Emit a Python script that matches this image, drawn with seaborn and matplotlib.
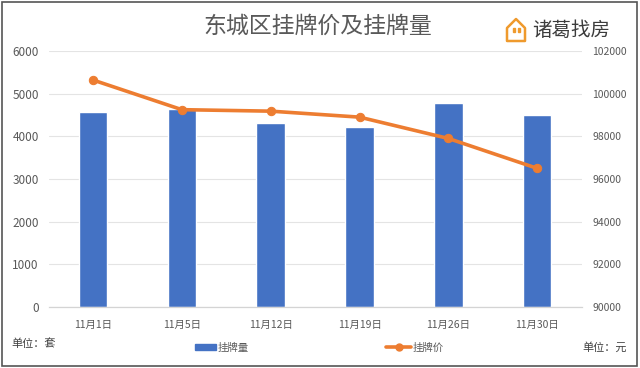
import numpy as np
import pandas as pd
import matplotlib
matplotlib.use("Agg")
import matplotlib.pyplot as plt
from matplotlib.lines import Line2D
from matplotlib.patches import Patch, Rectangle, Polygon
import seaborn as sns

dates = ['11月1日', '11月5日', '11月12日', '11月19日', '11月26日', '11月30日']
volume = [4560, 4650, 4320, 4230, 4780, 4500]
price = [100640, 99250, 99180, 98900, 97900, 96500]
left_ticks = [0, 1000, 2000, 3000, 4000, 5000, 6000]
right_ticks = [90000, 92000, 94000, 96000, 98000, 100000, 102000]

sns.set_theme(style="white")
plt.rcParams['font.family'] = ['Noto Sans CJK SC', 'DejaVu Sans']

blue = '#4472c4'
orange = '#ed7d31'
grey = '#595959'

fig = plt.figure(figsize=(6.4, 3.68), dpi=100)
ax = fig.add_axes([48.6 / 640, 1 - 307 / 368, 533 / 640, 256 / 368])

df = pd.DataFrame({'date': dates, 'volume': volume, 'price': price})
sns.barplot(data=df, x='date', y='volume', color=blue, saturation=1, width=0.32, ax=ax, zorder=2)
ax.set_ylim(0, 6000)
ax.set_xlim(-0.5, 5.5)
ax.set_yticks(left_ticks)
ax.set_xlabel('')
ax.set_ylabel('')
ax.grid(axis='y', color='#e4e4e4', lw=0.8)
ax.set_axisbelow(True)
ax.tick_params(axis='y', labelsize=8.5, labelcolor=grey, length=0, pad=7)
ax.tick_params(axis='x', labelsize=7.5, labelcolor=grey, length=0, pad=9)

ax2 = ax.twinx()
sns.lineplot(x=np.arange(len(dates)), y=df['price'], color=orange, lw=2.6, marker='o', ms=6,
             mec=orange, ax=ax2, zorder=3)
ax2.set_ylim(90000, 102000)
ax2.set_yticks(right_ticks)
ax2.set_ylabel('')
ax2.tick_params(axis='y', labelsize=7.5, labelcolor=grey, length=0, pad=7.5)

for a in (ax, ax2):
    sns.despine(ax=a, left=True, right=True, top=True, bottom=False)
    a.spines['bottom'].set_color('#d4d4d4')
    a.spines['bottom'].set_linewidth(0.8)

fig.text(318 / 640, 1 - 26 / 368, '东城区挂牌价及挂牌量', fontsize=16.5, color=grey, ha='center', va='center')
fig.text(11 / 640, 1 - 344 / 368, '单位：套', fontsize=8, color='#404040', va='center')
fig.text(582 / 640, 1 - 347 / 368, '单位：元', fontsize=8, color='#404040', va='center')

# legend
handles = [Patch(color=blue), Line2D([], [], color=orange, lw=2.6, marker='o', ms=5)]
leg1 = fig.legend(handles[:1], ['挂牌量'], loc='center', bbox_to_anchor=(222 / 640, 1 - 348 / 368), frameon=False,
                  fontsize=7.5, labelcolor=grey, handlelength=2.0, handleheight=0.5, handletextpad=0.2)
leg2 = fig.legend(handles[1:], ['挂牌价'], loc='center', bbox_to_anchor=(415 / 640, 1 - 348 / 368), frameon=False,
                  fontsize=7.5, labelcolor=grey, handlelength=2.4, handletextpad=0.1)

# logo
over = fig.add_axes([0, 0, 1, 1], facecolor='none')
over.set_xlim(0, 640)
over.set_ylim(368, 0)
over.axis('off')
over.add_patch(Polygon([[507, 41], [507, 28], [516, 19], [525, 28], [525, 41]], closed=True, fill=False,
                       ec='#ef9a2d', lw=1.8, joinstyle='round'))
over.add_patch(Rectangle((513, 28), 1.6, 4, color='#ef9a2d'))
over.add_patch(Rectangle((518, 28), 1.6, 4, color='#ef9a2d'))
over.text(571, 30, '诸葛找房', fontsize=14, color='#3c3c3c', ha='center', va='center')

# outer frame
over.add_patch(Rectangle((1.5, 1.5), 635.5, 364, fill=False, ec='#555555', lw=1.2))

fig.savefig('out.png', dpi=100)
